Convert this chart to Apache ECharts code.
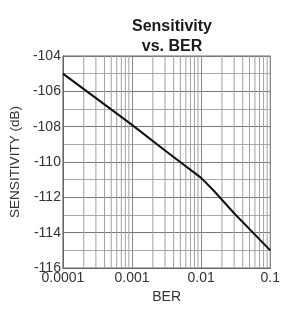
<!DOCTYPE html>
<html><head><meta charset="utf-8">
<script src="https://cdn.jsdelivr.net/npm/echarts@6/dist/echarts.min.js"></script>
<style>html,body{margin:0;padding:0;background:#fff}#c{width:283px;height:309px}</style>
</head><body><div id="c"></div>
<script>
var berValues = [0.0001, 0.001, 0.003, 0.01, 0.015, 0.03, 0.1];
var sensitivityValues = [-105, -107.9, -109.35, -110.9, -111.6, -112.9, -115];
var minorGridBER = [0.0002, 0.0003, 0.0004, 0.0005, 0.0006, 0.0007, 0.0008, 0.0009,
  0.002, 0.003, 0.004, 0.005, 0.006, 0.007, 0.008, 0.009,
  0.02, 0.03, 0.04, 0.05, 0.06, 0.07, 0.08, 0.09];
var yRange = [-116, -104];
var titleText = 'Sensitivity\nvs. BER';
var xName = 'BER';
var yName = 'SENSITIVITY (dB)';

var gridData = [];
minorGridBER.forEach(function (b) {
  gridData.push([b, yRange[0]], [b, yRange[1]], '-');
});

var FONT = 'Liberation Sans';
var chart = echarts.init(document.getElementById('c'), null, {renderer: 'canvas'});
chart.setOption({
  animation: false,
  backgroundColor: '#fff',
  title: {
    text: titleText, left: 167, top: 12, textAlign: 'center',
    textStyle: {fontFamily: FONT, fontSize: 16, fontWeight: 'bold', color: '#1a1a1a', lineHeight: 20}
  },
  grid: {left: 62, right: 6, top: 56, bottom: 37, containLabel: false,
    show: true, borderColor: '#666', borderWidth: 1, backgroundColor: 'transparent'},
  xAxis: {
    type: 'log', logBase: 10, min: 0.0001, max: 0.1,
    name: xName, nameLocation: 'middle', nameGap: 22,
    nameTextStyle: {fontFamily: FONT, fontSize: 14, color: '#333'},
    axisLine: {show: true, lineStyle: {color: '#666', width: 1}},
    axisTick: {show: false},
    axisLabel: {fontFamily: FONT, fontSize: 14, color: '#333', margin: 3,
      formatter: function (v) { return String(+v.toPrecision(1)); }},
    splitLine: {show: true, lineStyle: {color: '#888', width: 1}},
    minorTick: {show: false}, minorSplitLine: {show: false}
  },
  yAxis: {
    type: 'value', min: yRange[0], max: yRange[1], interval: 2,
    name: yName, nameLocation: 'middle', nameGap: 40, nameRotate: 90,
    nameTextStyle: {fontFamily: FONT, fontSize: 13.5, color: '#333'},
    axisLine: {show: true, lineStyle: {color: '#666', width: 1}},
    axisTick: {show: false},
    axisLabel: {fontFamily: FONT, fontSize: 14, color: '#333', margin: 2},
    splitLine: {show: true, lineStyle: {color: '#777', width: 1}},
    minorTick: {show: false, splitNumber: 2},
    minorSplitLine: {show: true, lineStyle: {color: '#aaa', width: 1}}
  },
  series: [{
    type: 'line', data: gridData, connectNulls: false, silent: true,
    symbol: 'none', lineStyle: {color: '#a0a0a0', width: 1}, z: 1
  }, {
    type: 'line', data: berValues.map(function (b, i) { return [b, sensitivityValues[i]]; }),
    smooth: false, symbol: 'none', lineStyle: {color: '#111', width: 2}, z: 5
  }]
});
</script></body></html>
